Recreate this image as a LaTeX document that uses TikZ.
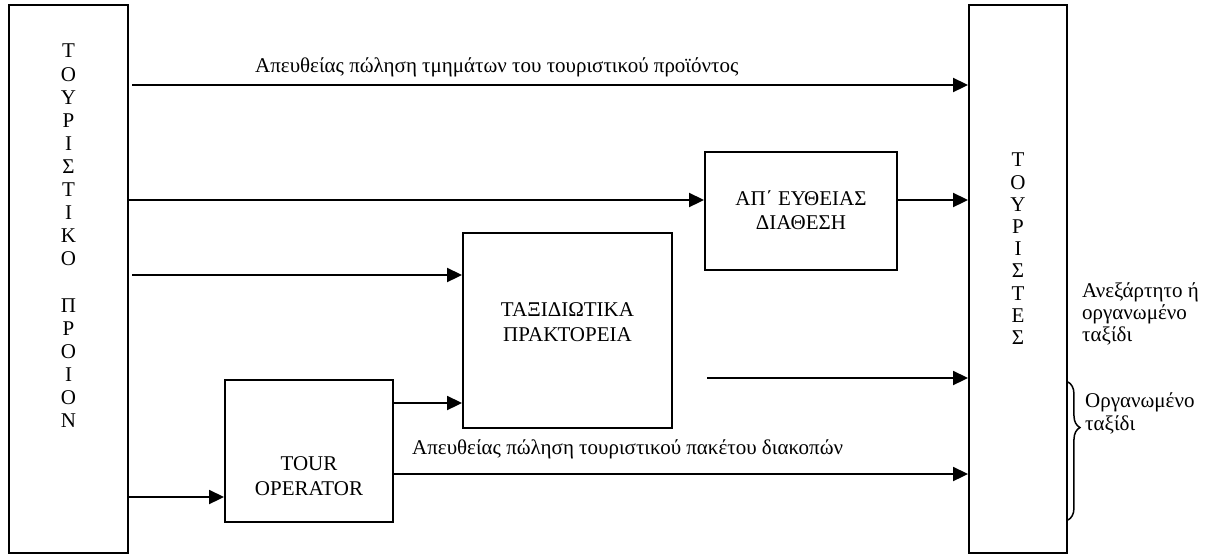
\documentclass[tikz,border=0pt]{standalone}
\usepackage{fontspec}
\setmainfont{Liberation Serif}
\usetikzlibrary{arrows.meta,decorations.pathreplacing,calc}
\begin{document}
\begin{tikzpicture}[x=1pt,y=-1pt,
  box/.style={draw,line width=1.9pt,inner sep=0pt},
  conn/.style={line width=1.9pt,-{Triangle[length=15pt,width=14pt]}},
  txt/.style={inner sep=0pt,font=\fontsize{21}{22}\selectfont},
  col/.style={inner sep=0pt,align=center,font=\fontsize{21}{23.1}\selectfont},
  rcol/.style={inner sep=0pt,align=center,font=\fontsize{21}{22.2}\selectfont},
  inb/.style={inner sep=0pt,align=center,font=\fontsize{21}{24.5}\selectfont}]
\useasboundingbox (0,0) rectangle (1217,558);
% boxes
\node[box,minimum width=119pt,minimum height=548pt] (lbox) at (68.5,279) {};
\node[box,minimum width=98pt,minimum height=548pt] (rbox) at (1018,279) {};
\node[box,minimum width=192pt,minimum height=118pt] (dbox) at (801,211) {};
\node[box,minimum width=209pt,minimum height=195pt] (tbox) at (567.5,330.5) {};
\node[box,minimum width=168pt,minimum height=142pt] (obox) at (309,451) {};
% box texts
\node[col,anchor=north] (ltxt) at (68.5,44) {Τ\\Ο\\Υ\\Ρ\\Ι\\Σ\\Τ\\Ι\\Κ\\Ο\\[23.1pt]Π\\Ρ\\Ο\\Ι\\Ο\\Ν};
\node[rcol,anchor=north] (rtxt) at (1018,153) {Τ\\Ο\\Υ\\Ρ\\Ι\\Σ\\Τ\\Ε\\Σ};
\node[inb] (dtxt) at (801,210) {ΑΠ΄ ΕΥΘΕΙΑΣ\\ΔΙΑΘΕΣΗ};
\node[inb] (ttxt) at (567.5,322) {ΤΑΞΙΔΙΩΤΙΚΑ\\ΠΡΑΚΤΟΡΕΙΑ};
\node[inb] (otxt) at (309,476) {TOUR\\OPERATOR};
% labels
\node[txt,anchor=mid west] (l1) at (255,70) {Απευθείας πώληση τμημάτων του τουριστικού προϊόντος};
\node[txt,anchor=mid west] (l2) at (412,452) {Απευθείας πώληση τουριστικού πακέτου διακοπών};
\node[txt,anchor=mid west] (l3a) at (1082,295) {Ανεξάρτητο ή};
\node[txt,anchor=mid west] (l3b) at (1082,317) {οργανωμένο};
\node[txt,anchor=mid west] (l3c) at (1082,339) {ταξίδι};
\node[txt,anchor=mid west] (l4a) at (1085,405) {Οργανωμένο};
\node[txt,anchor=mid west] (l4b) at (1085,428) {ταξίδι};
% connectors
\coordinate (s1) at (132,85);
\coordinate (s3) at (132,275);
\coordinate (s4) at (707,378);
\draw[conn] (s1) -- (s1 -| rbox.west);
\draw[conn] (lbox.east |- 0,200) -- (dbox.west |- 0,200);
\draw[conn] (dbox.east |- 0,200) -- (rbox.west |- 0,200);
\draw[conn] (s3) -- (s3 -| tbox.west);
\draw[conn] (s4) -- (s4 -| rbox.west);
\draw[conn] (obox.east |- 0,403) -- (tbox.west |- 0,403);
\draw[conn] (obox.east |- 0,474) -- (rbox.west |- 0,474);
\draw[conn] (lbox.east |- 0,497) -- (obox.west |- 0,497);
% brace
\draw[line width=1.5pt,decorate,decoration={brace,amplitude=12pt,aspect=0.33}]
  (rbox.east |- 0,382) -- (rbox.east |- 0,520);
\end{tikzpicture}
\end{document}
